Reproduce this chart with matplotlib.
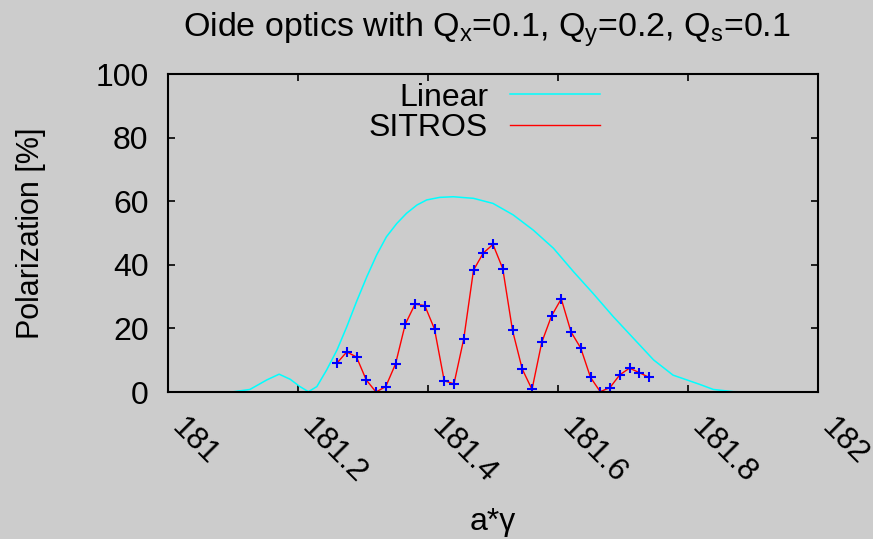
import matplotlib
matplotlib.use("Agg")
import matplotlib.pyplot as plt
from matplotlib.transforms import ScaledTranslation

plt.rcParams['font.family'] = ['Liberation Sans', 'DejaVu Sans']
plt.rcParams['mathtext.default'] = 'regular'

# Linear (cyan) curve
lin_x = [181.00, 181.098, 181.126, 181.152, 181.171, 181.188, 181.203, 181.216,
         181.229, 181.244, 181.260, 181.275, 181.290, 181.306, 181.321, 181.336,
         181.352, 181.367, 181.383, 181.398, 181.418, 181.439, 181.470, 181.500,
         181.531, 181.562, 181.593, 181.624, 181.654, 181.685, 181.716, 181.747,
         181.777, 181.818, 181.839, 181.87, 181.90, 182.0]
lin_y = [0, 0, 0.8, 3.8, 5.6, 4.0, 1.7, 0.1,
         1.7, 6.9, 13.2, 20.5, 28.4, 36.3, 43.1, 48.8,
         53.0, 56.2, 58.8, 60.4, 61.2, 61.4, 60.9, 59.3,
         55.7, 50.9, 45.2, 37.8, 31.0, 23.7, 16.9, 10.1,
         5.3, 2.4, 0.8, 0.1, 0, 0]

# SITROS (red line + blue points)
sit_x = [181.260, 181.275, 181.290, 181.305, 181.320, 181.335, 181.350, 181.365,
         181.380, 181.395, 181.410, 181.425, 181.440, 181.455, 181.470, 181.485,
         181.500, 181.515, 181.530, 181.545, 181.560, 181.575, 181.590, 181.605,
         181.620, 181.635, 181.650, 181.665, 181.680, 181.695, 181.710, 181.725,
         181.740]
sit_y = [9.1, 12.6, 11.0, 3.8, 0.0, 1.7, 8.8, 21.3,
         27.6, 27.2, 19.8, 3.5, 2.6, 16.7, 38.3, 43.7,
         46.4, 38.8, 19.4, 7.2, 0.8, 15.6, 23.9, 29.3,
         18.9, 13.8, 4.6, 0.1, 1.4, 5.4, 7.5, 6.1,
         4.6]

xticks = [181, 181.2, 181.4, 181.6, 181.8, 182]
xticklabels = ['181', '181.2', '181.4', '181.6', '181.8', '182']
yticks = [0, 20, 40, 60, 80, 100]

bg = '#cccccc'
fig = plt.figure(figsize=(8.73, 5.39), dpi=100, facecolor=bg)
ax = fig.add_axes([168/873, 1-392/539, 650/873, 318/539])
ax.set_facecolor(bg)

ax.plot(lin_x, lin_y, color='#00ffff', lw=1.1, label='Linear')
ax.plot(sit_x, sit_y, color='#ff0000', lw=1.0, label='SITROS')
ax.plot(sit_x, sit_y, ls='none', marker='+', ms=7.5, mew=1.5, color='#0000ff')

ax.set_xlim(181, 182)
ax.set_ylim(0, 100)
ax.set_xticks(xticks)
ax.set_xticklabels(xticklabels)
ax.set_yticks(yticks)

fs = 23
ax.tick_params(direction='in', length=5, width=1.2, top=True, right=True,
               labelsize=fs, color='black')
ax.tick_params(axis='x', pad=15, labelsize=22.5)
ax.tick_params(axis='y', pad=14)
off = ScaledTranslation(-2/100, 0, fig.dpi_scale_trans)
for lab in ax.get_xticklabels():
    lab.set_rotation(-45)
    lab.set_ha('left')
    lab.set_va('top')
    lab.set_transform(lab.get_transform() + off)

for s in ax.spines.values():
    s.set_linewidth(1.5)
    s.set_color('black')

ax.set_xlabel('a*γ', fontsize=fs)
ax.xaxis.set_label_coords(0.5, -(507-392)/318)
ax.set_ylabel('Polarization [%]', fontsize=22)
ax.yaxis.set_label_coords(-(168-46)/650, 0.5)
ax.set_title('Oide optics with Q$_x$=0.1, Q$_y$=0.2, Q$_s$=0.1', fontsize=24.5, pad=27)
ax.title.set_x((487-168)/650)

leg = ax.legend(loc='upper right', bbox_to_anchor=(0.684, 1.013), frameon=False,
                markerfirst=False, fontsize=fs, handlelength=2.8,
                labelspacing=0.02, handletextpad=0.7, borderaxespad=0,
                alignment='right')
for t in leg.get_texts():
    t.set_ha('right')

fig.savefig('out.png', dpi=100, facecolor=bg)
